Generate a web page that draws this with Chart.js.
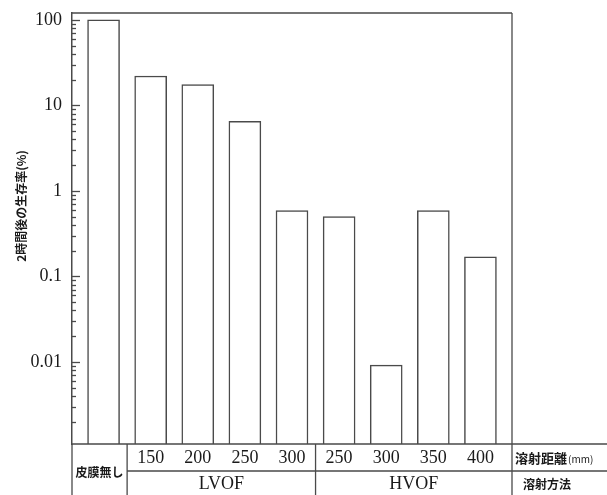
<!DOCTYPE html>
<html>
<head>
<meta charset="utf-8">
<script src="https://cdn.jsdelivr.net/npm/chart.js@4"></script>
<style>
  body { margin: 0; background: #fff; }
  #wrap { width: 607px; height: 495px; }
</style>
</head>
<body>
<div id="wrap"><canvas id="survivalChart" width="607" height="495"></canvas></div>
<script>
// survival after 2h, by spray method / distance
const categories = ['皮膜無し', '150', '200', '250', '300', '250', '300', '350', '400'];
const methods = ['', 'LVOF', 'LVOF', 'LVOF', 'LVOF', 'HVOF', 'HVOF', 'HVOF', 'HVOF'];
const survival = [100, 22, 17.5, 6.5, 0.59, 0.5, 0.0092, 0.59, 0.17];
const yTickLabels = { '-2': '0.01', '-1': '0.1', '0': '1', '1': '10', '2': '100' };

const LINE = '#4a4a4a';
const SERIF = "'Liberation Serif', 'DejaVu Serif', serif";
const JP = "'Noto Sans CJK JP', sans-serif";

// frame, inner log ticks, the table underneath and the y title
const tablePlugin = {
    id: 'tablePlugin',
    afterDraw(chart) {
        const ctx = chart.ctx;
        const area = chart.chartArea;
        const x = chart.scales.x;
        const y = chart.scales.y;
        const W = chart.width, H = chart.height;
        const rowMid = 471;

        ctx.save();
        ctx.strokeStyle = LINE;
        ctx.lineWidth = 1.3;

        // inner tick marks of the log axis
        y.ticks.forEach(t => {
            const v = t.value;
            const e = Math.floor(Math.log10(v) + 1e-9);
            const m = v / Math.pow(10, e);
            if (Math.abs(m - Math.round(m)) > 1e-6) return;
            const py = Math.round(y.getPixelForValue(v)) + 0.5;
            const len = Math.round(m) === 1 ? 8 : 4;
            ctx.beginPath();
            ctx.moveTo(area.left, py);
            ctx.lineTo(area.left + len, py);
            ctx.stroke();
        });

        const xb1 = x.getPixelForValue(0.5);
        const xb5 = x.getPixelForValue(4.5);

        ctx.beginPath();
        // top + right of frame
        ctx.moveTo(area.left, area.top);
        ctx.lineTo(area.right, area.top);
        ctx.moveTo(area.right, area.top);
        ctx.lineTo(area.right, H);
        // bottom line runs across the label column
        ctx.moveTo(area.left, area.bottom);
        ctx.lineTo(W, area.bottom);
        // table verticals
        ctx.moveTo(area.left, area.bottom);
        ctx.lineTo(area.left, H);
        ctx.moveTo(xb1, area.bottom);
        ctx.lineTo(xb1, H);
        ctx.moveTo(xb5, area.bottom);
        ctx.lineTo(xb5, H);
        // middle row line
        ctx.moveTo(xb1, rowMid);
        ctx.lineTo(W, rowMid);
        ctx.stroke();

        ctx.fillStyle = '#1a1a1a';
        ctx.textAlign = 'center';
        ctx.textBaseline = 'middle';

        // distance row
        ctx.font = '18px ' + SERIF;
        categories.forEach((c, i) => {
            if (i === 0) return;
            ctx.fillText(c, x.getPixelForValue(i), 458);
        });

        // method row
        const groups = {};
        methods.forEach((m, i) => {
            if (!m) return;
            groups[m] = groups[m] || [];
            groups[m].push(i);
        });
        ctx.font = '18px ' + SERIF;
        Object.keys(groups).forEach(m => {
            const idx = groups[m];
            const l = x.getPixelForValue(idx[0] - 0.5);
            const r = idx[idx.length - 1] === categories.length - 1 ? area.right : x.getPixelForValue(idx[idx.length - 1] + 0.5);
            ctx.fillText(m, (l + r) / 2, 484);
        });

        // no-coating cell spans both rows
        ctx.font = 'bold 12px ' + JP;
        ctx.fillText(categories[0], (area.left + xb1) / 2, rowMid + 1);

        // right column labels
        ctx.textAlign = 'left';
        ctx.font = 'bold 13px ' + JP;
        ctx.fillText('溶射距離', area.right + 3, 458);
        const w = ctx.measureText('溶射距離').width;
        ctx.font = '10px ' + JP;
        ctx.fillText('(mm)', area.right + 3 + w + 1, 459);
        ctx.textAlign = 'center';
        ctx.font = 'bold 12px ' + JP;
        ctx.fillText('溶射方法', 547, 484);

        // y title
        ctx.translate(21, 206);
        ctx.rotate(-Math.PI / 2);
        ctx.font = 'bold 12px ' + JP;
        ctx.fillText('2時間後の生存率(%)', 0, 0);
        ctx.restore();
    }
};

function buildChart() {
    const ctx = document.getElementById('survivalChart').getContext('2d');
    return new Chart(ctx, {
        type: 'bar',
        data: {
            datasets: [{
                data: survival.map((v, i) => ({ x: i, y: v })),
                backgroundColor: '#ffffff',
                borderColor: LINE,
                borderWidth: 1.5,
                barThickness: 32
            }]
        },
        options: {
            responsive: false,
            animation: false,
            layout: { padding: { left: 0, top: 13, right: 95, bottom: 51 } },
            plugins: {
                legend: { display: false },
                tooltip: { enabled: false }
            },
            scales: {
                x: {
                    type: 'linear',
                    offset: false,
                    min: -0.67,
                    max: 8.67,
                    display: false
                },
                y: {
                    type: 'logarithmic',
                    min: 0.0011,
                    max: 120,
                    afterFit: scale => {
                        scale.width = 72;
                        scale.paddingTop = 0;
                        scale.paddingBottom = 0;
                    },
                    border: { display: true, color: LINE, width: 1.5 },
                    grid: { drawOnChartArea: false, drawTicks: false },
                    ticks: {
                        autoSkip: false,
                        padding: 10,
                        color: '#1a1a1a',
                        font: { family: SERIF, size: 18 },
                        callback: v => {
                            const l = Math.log10(v);
                            const r = Math.round(l);
                            if (Math.abs(l - r) > 1e-9) return '';
                            return yTickLabels[r] || '';
                        }
                    }
                }
            }
        },
        plugins: [tablePlugin]
    });
}

buildChart();
</script>
</body>
</html>
